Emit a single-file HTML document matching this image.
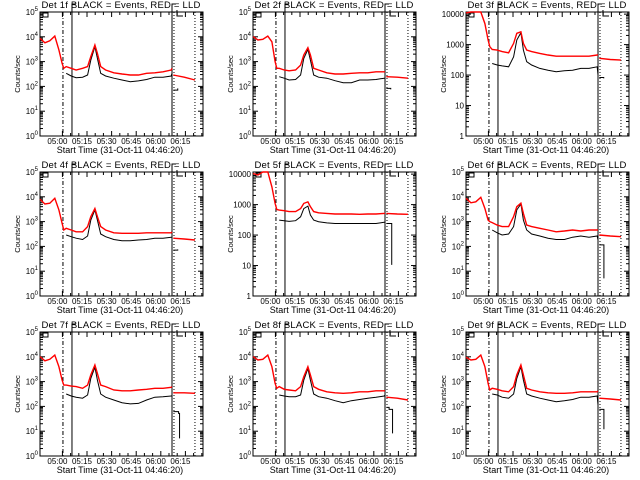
<!DOCTYPE html>
<html><head><meta charset="utf-8"><style>
html,body{margin:0;padding:0;background:#fff;}
svg{display:block;font-family:"Liberation Sans",sans-serif;}
</style></head><body>
<svg id="c" width="640" height="480" viewBox="0 0 640 480"></svg>
<script>
// shared time grid (minutes after 04:46:20)
const times = [0,3,6,9,11.5,13.5,14.5,16,19,22,26,29,31,33.5,35,37,40,45,50,55,60,65,70,75,80,80.5];
const detectors = ["1f","2f","3f","4f","5f","6f","7f","8f","9f"];
const axisKind = ["exp","exp","plain","exp","plain","exp","exp","exp","exp"];
const tickTimes = [13.67,28.67,43.67,58.67,73.67,88.67];
const tickLabels = ["05:00","05:15","05:30","05:45","06:00","06:15"];
// log10 counts/sec
const redLog = [
[3.94,3.76,3.84,4.03,3.47,2.93,2.73,2.80,2.73,2.66,2.73,2.80,3.20,3.67,3.33,2.80,2.66,2.55,2.50,2.46,2.46,2.53,2.55,2.59,2.66,2.73],
[4.01,3.87,3.90,4.03,3.80,3.00,2.73,2.73,2.66,2.63,2.66,2.86,3.27,3.56,3.27,2.73,2.66,2.55,2.50,2.50,2.53,2.55,2.55,2.59,2.59,2.59],
[4.04,4.07,4.07,4.07,3.69,3.15,2.93,2.84,2.82,2.77,2.73,3.04,3.37,3.42,3.04,2.82,2.77,2.71,2.66,2.62,2.62,2.62,2.62,2.62,2.66,2.66],
[3.90,3.71,3.74,3.94,3.47,2.93,2.66,2.73,2.66,2.59,2.59,2.80,3.20,3.53,3.20,2.80,2.66,2.55,2.53,2.53,2.53,2.55,2.55,2.55,2.55,2.59],
[4.02,3.97,4.07,4.07,3.58,3.04,2.84,2.82,2.80,2.77,2.77,2.87,3.04,3.09,2.93,2.77,2.73,2.71,2.69,2.69,2.69,2.68,2.69,2.69,2.71,2.71],
[3.94,3.76,3.80,3.98,3.53,3.06,3.00,2.96,2.86,2.80,2.80,3.20,3.60,3.74,3.33,2.86,2.80,2.73,2.66,2.59,2.62,2.66,2.62,2.66,2.66,2.66],
[4.01,3.84,3.90,4.07,3.60,3.06,2.86,2.86,2.82,2.80,2.73,2.86,3.27,3.67,3.33,2.86,2.80,2.66,2.63,2.63,2.66,2.69,2.73,2.73,2.77,2.80],
[4.01,3.87,3.90,4.07,3.60,2.93,2.73,2.80,2.69,2.66,2.63,2.80,3.20,3.60,3.27,2.80,2.69,2.59,2.55,2.53,2.55,2.59,2.59,2.63,2.63,2.63],
[3.98,3.87,3.90,4.07,3.60,2.93,2.66,2.73,2.69,2.63,2.59,2.80,3.27,3.67,3.27,2.73,2.66,2.59,2.55,2.53,2.53,2.55,2.59,2.59,2.59,2.63]
];
// black starts at times[7]
const blackLog = [
[2.53,2.42,2.35,2.37,2.46,3.06,3.60,3.13,2.53,2.42,2.33,2.26,2.19,2.22,2.28,2.37,2.37,2.42,2.53],
[2.39,2.33,2.26,2.28,2.46,3.13,3.49,3.06,2.46,2.37,2.33,2.23,2.15,2.15,2.26,2.26,2.28,2.33,2.33],
[2.38,2.33,2.30,2.27,2.60,3.15,3.39,2.82,2.44,2.33,2.22,2.16,2.11,2.14,2.16,2.22,2.22,2.27,2.00],
[2.46,2.39,2.33,2.28,2.42,3.06,3.47,3.06,2.50,2.39,2.28,2.23,2.23,2.26,2.28,2.33,2.33,2.37,2.37],
[2.49,2.47,2.45,2.47,2.60,2.87,2.95,2.66,2.49,2.44,2.40,2.38,2.38,2.38,2.38,2.38,2.38,2.42,2.42],
[2.66,2.55,2.46,2.50,2.80,3.47,3.71,3.06,2.66,2.50,2.42,2.33,2.28,2.28,2.37,2.42,2.37,2.42,2.26],
[2.50,2.42,2.37,2.33,2.46,3.13,3.58,3.06,2.50,2.37,2.26,2.15,2.10,2.12,2.26,2.37,2.39,2.42,2.42],
[2.46,2.42,2.39,2.39,2.46,3.06,3.53,3.06,2.50,2.39,2.33,2.23,2.15,2.23,2.28,2.33,2.37,2.42,2.46],
[2.50,2.46,2.37,2.33,2.50,3.13,3.60,3.06,2.50,2.42,2.33,2.26,2.19,2.23,2.28,2.37,2.37,2.42,2.06]
];
const postRedTimes = [81.3,88,94.5];
const postRedLog = [
[2.46,2.37,2.26],[2.39,2.37,2.33],[2.55,2.51,2.49],[2.33,2.30,2.26],[2.71,2.69,2.68],
[2.46,2.42,2.39],[2.55,2.55,2.53],[2.37,2.33,2.26],[2.33,2.30,2.26]
];
const postBlackTimes = [
[81.3,84],[81.3,84],[81.3,84],[81.3,84],[81.3,84.5,84.6],[81.3,84,84.1],[81.3,84.5,85,85.1],[81.3,83,85,85.1],[81.3,84,84.1]
];
const postBlackLog = [
[1.85,1.92],[1.92,1.88],[1.92,1.89],[1.85,1.88],[2.38,2.38,1.02],[2.06,2.06,0.71],[1.79,1.72,1.72,0.71],[1.96,1.88,1.88,0.91],[1.88,1.88,1.08]
];

const NS="http://www.w3.org/2000/svg";
const svg=document.getElementById('c');
function mk(tag,attrs,parent){const e=document.createElementNS(NS,tag);for(const k in attrs)e.setAttribute(k,attrs[k]);(parent||svg).appendChild(e);return e;}

const X0=40,X1=203,Y0=12,Y1=136,TMAX=99.4;
for(let p=0;p<9;p++){
  const ox=(p%3)*213, oy=Math.floor(p/3)*160;
  const g=mk('g',{transform:`translate(${ox},${oy})`});
  
  
  const plain=axisKind[p]==="plain";
  const lmin=0,lmax=plain?4.07:5, decades=plain?4:5;
  const xs=t=>X0+(t/TMAX)*(X1-X0);
  const ys=l=>Y1-(Math.max(lmin,Math.min(lmax,l))-lmin)/(lmax-lmin)*(Y1-Y0);
  const fr=mk('rect',{x:X0,y:Y0,width:X1-X0,height:Y1-Y0,fill:'none',stroke:'#000','stroke-width':1},g);
  
  
  for(let d=0;d<=decades;d++){
    const y=ys(d);
    mk('line',{x1:X0,x2:X0+5,y1:y,y2:y,stroke:'#000'},g);
    mk('line',{x1:X1-5,x2:X1,y1:y,y2:y,stroke:'#000'},g);
    if(d<decades){for(let m=2;m<10;m++){const ym=ys(d+Math.log10(m));mk('line',{x1:X0,x2:X0+3,y1:ym,y2:ym,stroke:'#000'},g);mk('line',{x1:X1-3,x2:X1,y1:ym,y2:ym,stroke:'#000'},g);}}
    const t=mk('text',{x:X0-2,y:y+3,'font-size':8,'text-anchor':'end'},g);
    
    
    if(plain){t.textContent=String(Math.pow(10,d));}
    else{t.textContent='10';const s=mk('tspan',{dy:-4,'font-size':6},t);s.textContent=String(d);}
  }
  tickTimes.forEach((tt,i)=>{
    const x=xs(tt);
    mk('line',{x1:x,x2:x,y1:Y1,y2:Y1-5,stroke:'#000'},g);
    mk('line',{x1:x,x2:x,y1:Y0,y2:Y0+5,stroke:'#000'},g);
    for(let m=1;m<3;m++){const xm=xs(tt+5*m);if(xm<X1){mk('line',{x1:xm,x2:xm,y1:Y1,y2:Y1-3,stroke:'#000'},g);mk('line',{x1:xm,x2:xm,y1:Y0,y2:Y0+3,stroke:'#000'},g);}}
    const t=mk('text',{x:x-5,y:Y1+8,'font-size':8,'text-anchor':'middle'},g);
    
    
    t.textContent=tickLabels[i];
  });
  const xt=mk('text',{x:120,y:Y1+17,'font-size':9,'text-anchor':'middle'},g);
  
  
  xt.textContent='Start Time (31-Oct-11 04:46:20)';
  const yt=mk('text',{x:0,y:0,'font-size':7.5,'text-anchor':'middle',transform:`translate(20,${(Y0+Y1)/2}) rotate(-90)`},g);
  
  
  yt.textContent='Counts/sec';
  const tl=mk('text',{x:121,y:8,'font-size':9.5,'text-anchor':'middle','letter-spacing':'0.2'},g);
  
  
  tl.textContent='Det '+detectors[p]+' BLACK = Events, RED = LLD';
  mk('rect',{x:43,y:13,width:5,height:4,fill:'none',stroke:'#000'},g);
  mk('line',{x1:xs(14),x2:xs(14),y1:Y0,y2:Y1,stroke:'#000','stroke-dasharray':'4,2,1,2'},g);
  mk('polyline',{points:`${xs(19.5)},${Y1} ${xs(19.5)},${Y0-8} ${xs(19.5)+4},${Y0-8}`,fill:'none',stroke:'#000'},g);
  mk('polyline',{points:`${xs(80.5)},${Y1} ${xs(80.5)},${Y0-8} ${xs(80.5)+4},${Y0-8}`,fill:'none',stroke:'#000'},g);
  mk('polyline',{points:`${xs(81.7)+3},${Y0-2} ${xs(81.7)+3},${Y0+4} ${xs(81.7)+9},${Y0+4}`,fill:'none',stroke:'#000'},g);
  mk('line',{x1:xs(81.7),x2:xs(81.7),y1:Y0,y2:Y1,stroke:'#000','stroke-dasharray':'1,2'},g);
  mk('line',{x1:xs(94.5),x2:xs(94.5),y1:Y0,y2:Y1,stroke:'#000','stroke-dasharray':'1,2'},g);
  const step=(ts,vs)=>{let s='';let prev=null;ts.forEach((t,i)=>{if(vs[i]==null)return;const x=xs(t),y=ys(vs[i]);s+=(prev===null?`M${x},${y}`:`H${x}V${y}`);prev=y;});return s;};
  const smooth=(ts,vs)=>ts.map((t,i)=>vs[i]==null?null:`${xs(t).toFixed(1)},${ys(vs[i]).toFixed(1)}`).filter(v=>v).join(' ');
  const bt=times.slice(7);
  const bl=mk('polyline',{points:smooth(bt,blackLog[p]),fill:'none',stroke:'#000','stroke-width':1},g);
  
  
  const rl=mk('polyline',{points:smooth(times,redLog[p]),fill:'none',stroke:'#ff0000','stroke-width':1.4},g);
  
  
  const pr=mk('polyline',{points:smooth(postRedTimes,postRedLog[p]),fill:'none',stroke:'#ff0000','stroke-width':1.4},g);
  
  
  const pb=mk('path',{d:step(postBlackTimes[p],postBlackLog[p]),fill:'none',stroke:'#000','stroke-width':1},g);
  
  
}
</script>
</body></html>
